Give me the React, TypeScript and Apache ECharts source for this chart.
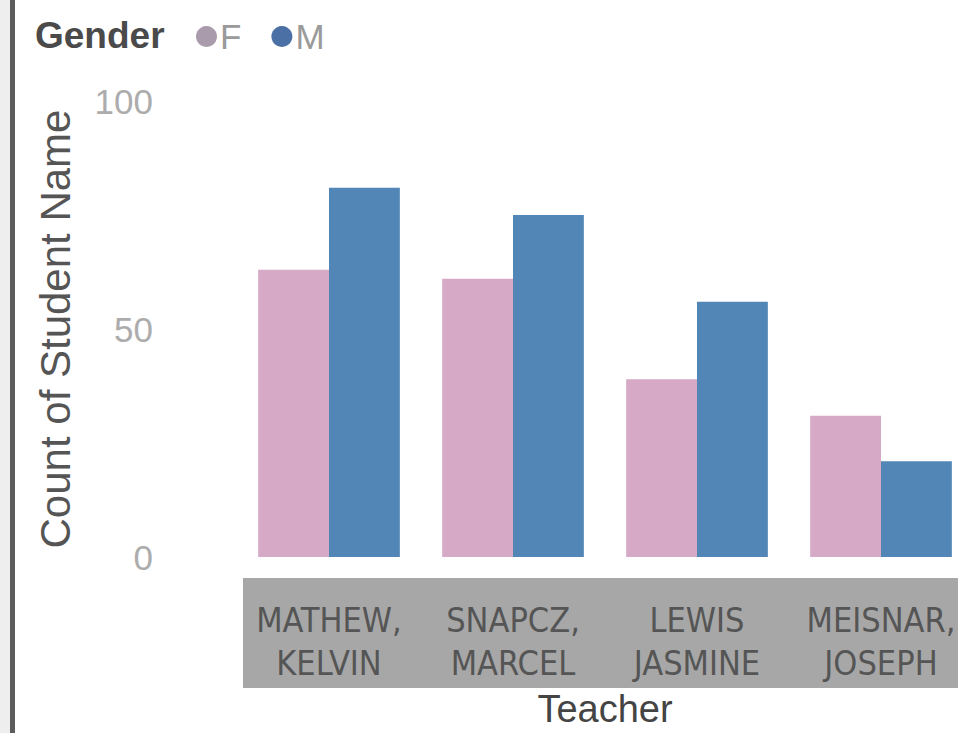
import React, { useEffect, useRef } from "react";
import * as echarts from "echarts";

const teachers = ["MATHEW,\nKELVIN", "SNAPCZ,\nMARCEL", "LEWIS\nJASMINE", "MEISNAR,\nJOSEPH"];
const seriesNames = ["F", "M"];
const femaleCounts = [63, 61, 39, 31];
const maleCounts = [81, 75, 56, 21];
const yTicks = [0, 50, 100];

const PINK = "#d6aac6";
const BLUE = "#5186b6";

export default function App() {
  const ref = useRef<HTMLDivElement>(null);
  useEffect(() => {
    if (!ref.current) return;
    const chart = echarts.init(ref.current, undefined, { renderer: "svg" });
    chart.setOption({
      animation: false,
      backgroundColor: "#ffffff",
      title: {
        text: "Gender",
        left: 30,
        top: 12,
        textStyle: { fontFamily: "Liberation Sans", fontSize: 37, fontWeight: "bold", color: "#4a4a4a" },
      },
      legend: {
        data: [
          { name: seriesNames[0], itemStyle: { color: "#a99bab" } },
          { name: seriesNames[1], itemStyle: { color: "#4b70a6" } },
        ],
        left: 191,
        top: 14,
        icon: "circle",
        itemWidth: 21,
        itemHeight: 21,
        itemGap: 30,
        textStyle: { fontFamily: "Liberation Sans", fontSize: 35, color: "#9a9a9a", padding: [0, 0, 0, -2] },
      },
      graphic: [
        { type: "rect", z: -10, shape: { x: 0, y: 0, width: 10, height: 733 }, style: { fill: "#eeeeee" } },
        { type: "rect", z: -10, shape: { x: 10, y: 0, width: 5, height: 733 }, style: { fill: "#5c5c5c" } },
        { type: "rect", z: -10, shape: { x: 243, y: 578, width: 800, height: 110 }, style: { fill: "#a7a7a7" } },
      ],
      grid: { left: 237, width: 736, top: 101, height: 462 },
      xAxis: {
        type: "category",
        data: teachers,
        z: 10,
        axisLine: { show: false },
        axisTick: { show: false },
        axisLabel: {
          interval: 0,
          margin: 41,
          fontFamily: "'Liberation Sans Narrow', 'DejaVu Sans Condensed', sans-serif",
          fontSize: 34,
          lineHeight: 43,
          color: "#555555",
        },
        name: "Teacher",
        nameLocation: "middle",
        nameGap: 133,
        nameTextStyle: { fontFamily: "Liberation Sans", fontSize: 38, color: "#444444" },
      },
      yAxis: {
        type: "value",
        min: yTicks[0],
        max: yTicks[yTicks.length - 1],
        interval: yTicks[1] - yTicks[0],
        splitLine: { show: false },
        axisLine: { show: false },
        axisTick: { show: false },
        axisLabel: { margin: 84, fontFamily: "Liberation Sans", fontSize: 35, color: "#acacac" },
        name: "Count of Student Name",
        nameLocation: "middle",
        nameGap: 161,
        nameTextStyle: { fontFamily: "Liberation Sans", fontSize: 42, color: "#555555" },
      },
      series: [
        {
          name: seriesNames[0],
          type: "bar",
          data: femaleCounts,
          barGap: "0%",
          barCategoryGap: "23%",
          itemStyle: { color: PINK },
        },
        {
          name: seriesNames[1],
          type: "bar",
          data: maleCounts,
          barGap: "0%",
          barCategoryGap: "23%",
          itemStyle: { color: BLUE },
        },
      ],
    });
    return () => chart.dispose();
  }, []);
  return (
    <div style={{ position: "fixed", left: 0, top: 0, width: 958, height: 733, overflow: "hidden", background: "#fff" }}>
      <div ref={ref} style={{ width: 1000, height: 733 }} />
    </div>
  );
}
